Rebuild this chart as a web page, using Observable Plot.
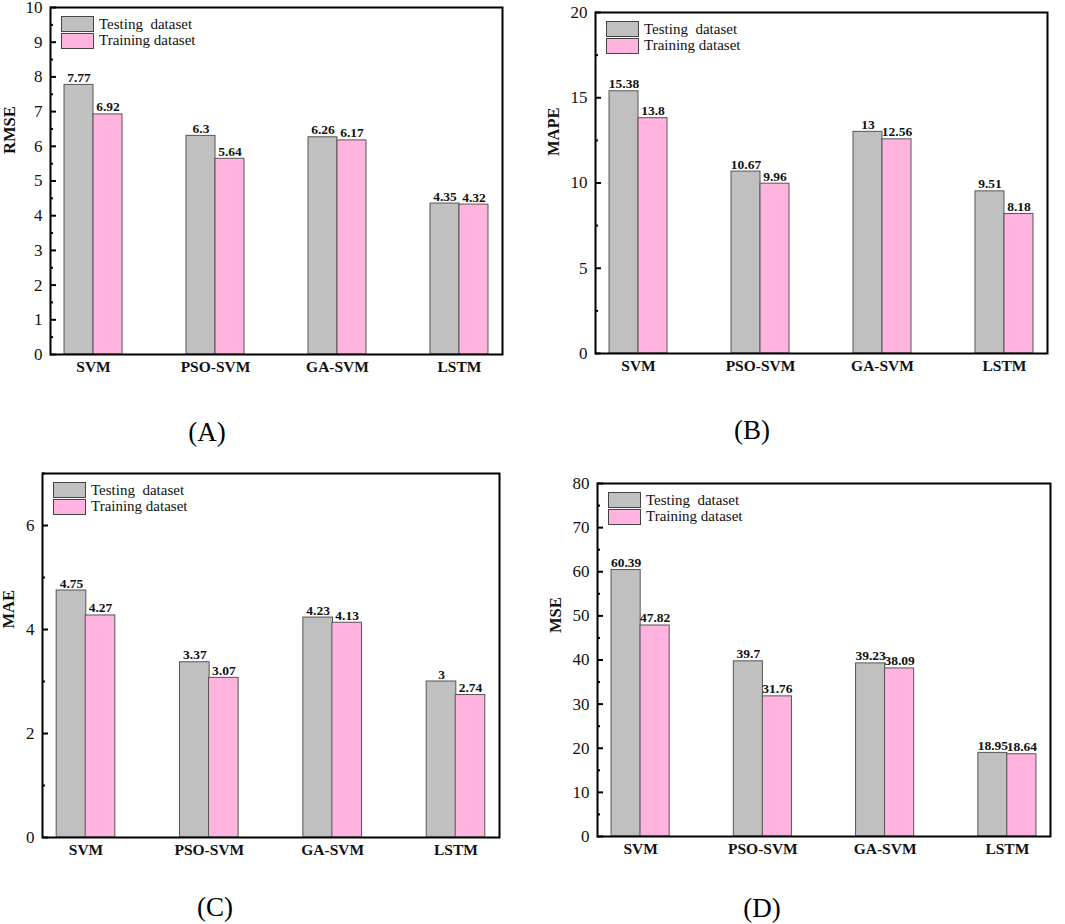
<!DOCTYPE html>
<html>
<head>
<meta charset="utf-8">
<script src="https://cdn.jsdelivr.net/npm/d3@7"></script>
<script src="https://cdn.jsdelivr.net/npm/@observablehq/plot@0.6"></script>
<style>
  body { margin: 0; background: #fff; }
  #root { position: relative; width: 1065px; height: 924px; overflow: hidden; font-family: 'Liberation Serif', 'Times New Roman', serif; }
  .panel { position: absolute; }
  .panel svg text { font-family: 'Liberation Serif', 'Times New Roman', serif; }
  .legend { position: absolute; font-size: 15px; color: #111; font-family: 'Liberation Serif', serif; }
  .legend .row { display: flex; align-items: center; height: 16.5px; }
  .legend .sw { width: 31px; height: 14px; border: 1px solid #444; margin-right: 5px; }
  .caption { position: absolute; font-size: 27px; transform: translate(-50%, -50%); white-space: nowrap; font-family: 'Liberation Serif', serif; }
</style>
</head>
<body>
<div id="root"></div>
<script>
// ---- data ----
const models = ["SVM", "PSO-SVM", "GA-SVM", "LSTM"];
const seriesNames = ["Testing  dataset", "Training dataset"];
const rmseTesting = [7.77, 6.3, 6.26, 4.35];
const rmseTraining = [6.92, 5.64, 6.17, 4.32];
const mapeTesting = [15.38, 10.67, 13, 9.51];
const mapeTraining = [13.8, 9.96, 12.56, 8.18];
const maeTesting = [4.75, 3.37, 4.23, 3];
const maeTraining = [4.27, 3.07, 4.13, 2.74];
const mseTesting = [60.39, 39.7, 39.23, 18.95];
const mseTraining = [47.82, 31.76, 38.09, 18.64];
const rmseTicks = [0, 1, 2, 3, 4, 5, 6, 7, 8, 9, 10];
const mapeTicks = [0, 5, 10, 15, 20];
const maeTicks = [0, 2, 4, 6];
const mseTicks = [0, 10, 20, 30, 40, 50, 60, 70, 80];
const captions = ["(A)", "(B)", "(C)", "(D)"];

const colors = ["#c0c0c0", "#ffb3de"];
const FONT = "'Liberation Serif', 'Times New Roman', serif";

const panels = [
  {label: "RMSE", test: rmseTesting, train: rmseTraining, ticks: rmseTicks, minorStep: 0.5, domain: [0, 10],
   left: 0, top: 0, width: 530, height: 390, ml: 50, mr: 28, mt: 7, mb: 36, titleDx: -41, caption: captions[0], capX: 207, capY: 432},
  {label: "MAPE", test: mapeTesting, train: mapeTraining, ticks: mapeTicks, minorStep: 2.5, domain: [0, 20],
   left: 530, top: 0, width: 535, height: 390, ml: 65, mr: 18, mt: 12, mb: 37, titleDx: -42, caption: captions[1], capX: 752, capY: 430},
  {label: "MAE", test: maeTesting, train: maeTraining, ticks: maeTicks, minorStep: 1, domain: [0, 7],
   left: 0, top: 460, width: 530, height: 410, ml: 42, mr: 31, mt: 13, mb: 33, titleDx: -34, caption: captions[2], capX: 215, capY: 907},
  {label: "MSE", test: mseTesting, train: mseTraining, ticks: mseTicks, minorStep: 5, domain: [0, 80],
   left: 530, top: 460, width: 535, height: 410, ml: 67, mr: 15, mt: 23, mb: 34, titleDx: -42, caption: captions[3], capX: 762, capY: 908}
];

const root = document.getElementById("root");

for (const p of panels) {
  const testRows = models.map((m, i) => ({model: m, value: p.test[i]}));
  const trainRows = models.map((m, i) => ({model: m, value: p.train[i]}));
  const frameW = p.width - p.ml - p.mr;
  const minor = d3.range(p.domain[0], p.domain[1] + 1e-9, p.minorStep).filter(v => !p.ticks.some(t => Math.abs(t - v) < 1e-9));
  const bw = 58, half = bw / 2;

  const chart = Plot.plot({
    width: p.width,
    height: p.height,
    marginLeft: p.ml,
    marginRight: p.mr,
    marginTop: p.mt,
    marginBottom: p.mb,
    style: `font-family: ${FONT}; font-size: 16px; color: #111; background: transparent;`,
    x: {domain: models, type: "band", paddingInner: 0.5246, paddingOuter: 0.115, round: false, label: null},
    y: {domain: p.domain, label: null},
    marks: [
      Plot.barY(testRows, {x: "model", y: "value", fill: colors[0], stroke: "#555", strokeWidth: 1, insetRight: half}),
      Plot.barY(trainRows, {x: "model", y: "value", fill: colors[1], stroke: "#555", strokeWidth: 1, insetLeft: half}),
      Plot.text(testRows, {x: "model", y: "value", text: d => String(d.value), dx: -half / 2, dy: -3, lineAnchor: "bottom", fontWeight: "bold", fontSize: 13.5, fontFamily: FONT, fill: "#111"}),
      Plot.text(trainRows, {x: "model", y: "value", text: d => String(d.value), dx: half / 2, dy: -3, lineAnchor: "bottom", fontWeight: "bold", fontSize: 13.5, fontFamily: FONT, fill: "#111"}),
      Plot.ruleY(p.ticks, {y: d => d, insetRight: frameW - 6, stroke: "#000", strokeWidth: 2}),
      Plot.ruleY(minor, {y: d => d, insetRight: frameW - 3, stroke: "#000", strokeWidth: 2}),
      Plot.axisY({ticks: p.ticks, tickSize: 0, tickPadding: 8, tickFormat: d => String(d), label: null, fontSize: 17, fontFamily: FONT}),
      Plot.axisX({tickSize: 0, tickPadding: 6.5, label: null, fontWeight: "bold", fontSize: 15.5, fontFamily: FONT}),
      Plot.text([p.label], {text: d => d, frameAnchor: "left", rotate: -90, dx: p.titleDx, dy: -27, fontWeight: "bold", fontSize: 16.5, fontFamily: FONT, fill: "#111"}),
      Plot.frame({stroke: "#000", strokeWidth: 2})
    ]
  });
  const wrap = document.createElement("div");
  wrap.className = "panel";
  wrap.style.left = p.left + "px";
  wrap.style.top = p.top + "px";
  wrap.appendChild(chart);
  root.appendChild(wrap);

  // legend inside frame
  const lg = document.createElement("div");
  lg.className = "legend";
  lg.style.left = (p.left + p.ml + 11) + "px";
  lg.style.top = (p.top + p.mt + 9) + "px";
  seriesNames.forEach((name, i) => {
    const row = document.createElement("div");
    row.className = "row";
    const sw = document.createElement("div");
    sw.className = "sw";
    sw.style.background = colors[i];
    const tx = document.createElement("span");
    tx.style.whiteSpace = "pre";
    tx.textContent = name;
    row.appendChild(sw);
    row.appendChild(tx);
    lg.appendChild(row);
  });
  root.appendChild(lg);

  const cap = document.createElement("div");
  cap.className = "caption";
  cap.style.left = p.capX + "px";
  cap.style.top = p.capY + "px";
  cap.textContent = p.caption;
  root.appendChild(cap);
}
</script>
</body>
</html>
